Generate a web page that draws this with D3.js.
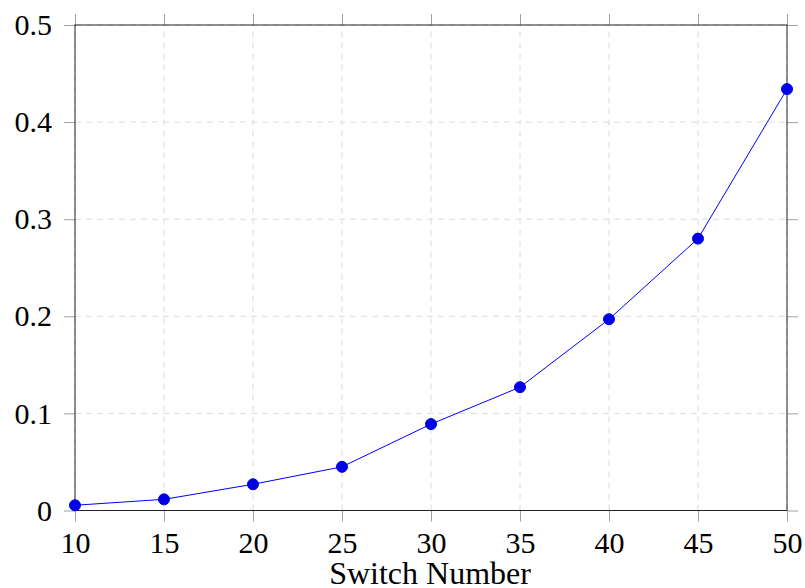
<!DOCTYPE html>
<html>
<head>
<meta charset="utf-8">
<script src="https://cdn.jsdelivr.net/npm/d3@7"></script>
<style>
  body { margin: 0; background: #fff; }
  text { font-family: "Liberation Serif", "DejaVu Serif", serif; fill: #000; }
</style>
</head>
<body>
<div id="chart"></div>
<script>
// switch counts vs value
const switchNumbers = [10, 15, 20, 25, 30, 35, 40, 45, 50];
const values = [0.0054, 0.0115, 0.027, 0.045, 0.089, 0.127, 0.197, 0.280, 0.434];
const xTicks = [10, 15, 20, 25, 30, 35, 40, 45, 50];
const yTicks = [0, 0.1, 0.2, 0.3, 0.4, 0.5];

const width = 805, height = 588;
const margin = { left: 75, right: 18, top: 25, bottom: 78 };

const svg = d3.select("#chart").append("svg")
  .attr("width", width).attr("height", height);

const x = d3.scaleLinear().domain([10, 50]).range([margin.left, width - margin.right]);
const y = d3.scaleLinear().domain([0, 0.5]).range([height - margin.bottom + 0.5, margin.top]);

// grid
svg.append("g").selectAll("line").data(xTicks).join("line")
  .attr("x1", (d) => x(d)).attr("x2", (d) => x(d))
  .attr("y1", y(0)).attr("y2", y(0.5))
  .attr("stroke", "#dcdcdc").attr("stroke-dasharray", "6,5");
svg.append("g").selectAll("line").data(yTicks).join("line")
  .attr("x1", x(10)).attr("x2", x(50))
  .attr("y1", (d) => y(d)).attr("y2", (d) => y(d))
  .attr("stroke", "#dcdcdc").attr("stroke-dasharray", "6,5");

// axes (outside ticks on every side)
const tick = 11;
const fmtY = (d) => (d === 0 ? "0" : d3.format(".1f")(d));

const xAxis = svg.append("g").attr("transform", `translate(0,${y(0)})`)
  .call(d3.axisBottom(x).tickValues(xTicks).tickSize(tick).tickPadding(10).tickFormat(d3.format("d")));
const yAxis = svg.append("g").attr("transform", `translate(${x(10)},0)`)
  .call(d3.axisLeft(y).tickValues(yTicks).tickSize(tick).tickPadding(12).tickFormat(fmtY));
const xTop = svg.append("g").attr("transform", `translate(0,${y(0.5)})`)
  .call(d3.axisTop(x).tickValues(xTicks).tickSize(tick).tickFormat(""));
const yRight = svg.append("g").attr("transform", `translate(${x(50)},0)`)
  .call(d3.axisRight(y).tickValues(yTicks).tickSize(tick).tickFormat(""));

[xAxis, yAxis, xTop, yRight].forEach((g) => {
  g.select(".domain").remove();
  g.attr("font-family", "Liberation Serif, serif").attr("font-size", 30);
  g.selectAll(".tick line").attr("stroke", "#a0a0a0");
  g.selectAll(".tick text").attr("fill", "#000");
});

// frame
svg.append("rect")
  .attr("x", x(10)).attr("y", y(0.5))
  .attr("width", x(50) - x(10)).attr("height", y(0) - y(0.5))
  .attr("fill", "none").attr("stroke", "#222").attr("stroke-width", 1);

// series
const line = d3.line().x((d, i) => x(switchNumbers[i])).y((d) => y(d));
svg.append("path").datum(values)
  .attr("d", line).attr("fill", "none")
  .attr("stroke", "blue").attr("stroke-width", 1);

svg.append("g").selectAll("circle").data(values).join("circle")
  .attr("cx", (d, i) => x(switchNumbers[i])).attr("cy", (d) => y(d))
  .attr("r", 5.5).attr("fill", "#0000e6").attr("stroke", "#0000e6");

// x label
svg.append("text")
  .attr("x", (x(10) + x(50)) / 2 - 1).attr("y", 584)
  .attr("text-anchor", "middle").attr("font-size", 32)
  .text("Switch Number");
</script>
</body>
</html>
